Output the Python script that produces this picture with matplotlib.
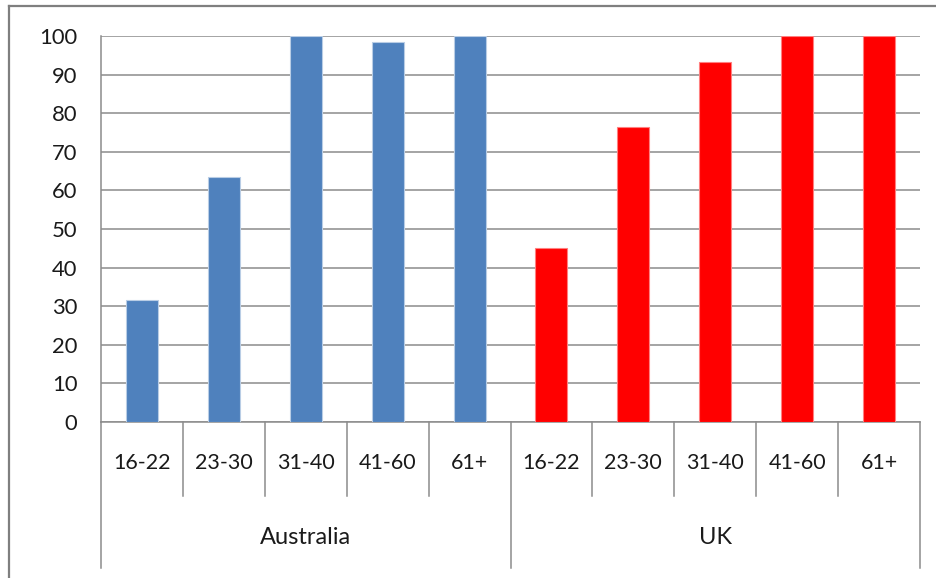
import matplotlib
matplotlib.use("Agg")
import matplotlib.pyplot as plt
import matplotlib.transforms as mtransforms
from matplotlib.lines import Line2D

# Data
groups = ["Australia", "UK"]
age_bands = ["16-22", "23-30", "31-40", "41-60", "61+"]
australia = [31.7, 63.4, 100, 98.4, 100]
uk = [45, 76.5, 93.3, 100, 100]
group_colors = ["#4F81BD", "#FF0000"]
edge_colors = ["#B9CDE5", "#FF8080"]
y_ticks = list(range(0, 101, 10))

plt.rcParams["font.family"] = ["Lato", "DejaVu Sans"]

W, H = 936, 578
fig = plt.figure(figsize=(W / 100, H / 100), dpi=100)
fig.patch.set_facecolor("white")

left, right, top, bottom = 101, 920, 36, 422
ax = fig.add_axes([left / W, 1 - bottom / H, (right - left) / W, (bottom - top) / H])

grid_color = "#8C8C8C"
text_color = "#1a1a1a"
n = len(age_bands)
for g, (vals, col, ec) in enumerate(zip([australia, uk], group_colors, edge_colors)):
    xs = [g * n + i + 0.5 for i in range(n)]
    ax.bar(xs, vals, width=0.39, color=col, edgecolor=ec, linewidth=0.8, zorder=3)

ax.set_xlim(0, len(groups) * n)
ax.set_ylim(0, 100)
ax.set_yticks(y_ticks)
ax.set_yticklabels([str(v) for v in y_ticks], fontsize=15.8, color=text_color)
ax.tick_params(axis="y", length=0, pad=17)
ax.set_xticks([])
ax.yaxis.grid(True, color=grid_color, linewidth=1.1, zorder=0)
ax.set_axisbelow(True)
for s in ["top", "right"]:
    ax.spines[s].set_visible(False)
for s in ["left", "bottom"]:
    ax.spines[s].set_color(grid_color)
    ax.spines[s].set_linewidth(1.1)

# Category axis: separators, age labels, group labels
trans = mtransforms.blended_transform_factory(ax.transData, ax.transAxes)
span = bottom - top
inner_end = -(496 - bottom) / span
outer_end = -(568 - bottom) / span
for k in range(len(groups) * n + 1):
    y_end = outer_end if k % n == 0 else inner_end
    ax.plot([k, k], [0, y_end], color=grid_color, linewidth=1.1,
            transform=trans, clip_on=False)
for g, gname in enumerate(groups):
    for i, lab in enumerate(age_bands):
        ax.text(g * n + i + 0.5, -(463 - bottom) / span, lab,
                transform=trans, ha="center", va="center",
                fontsize=15.5, color=text_color)
    ax.text(g * n + n / 2, -(538 - bottom) / span, gname,
            transform=trans, ha="center", va="center",
            fontsize=17, color=text_color)

# Chart frame
frame_color = "#7F7F7F"
fig.add_artist(Line2D([9 / W, 9 / W], [0, 1 - 6 / H], color=frame_color,
                      linewidth=1.6, transform=fig.transFigure))
fig.add_artist(Line2D([9 / W, 1], [1 - 6 / H, 1 - 6 / H], color=frame_color,
                      linewidth=1.6, transform=fig.transFigure))

fig.savefig("out.png", dpi=100)
